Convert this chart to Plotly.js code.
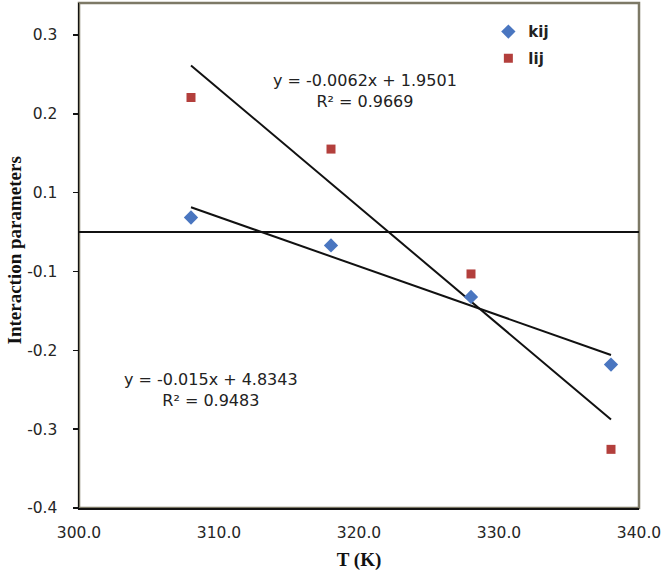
<!DOCTYPE html>
<html>
<head>
<meta charset="utf-8">
<script src="https://cdn.plot.ly/plotly-3.0.1.min.js"></script>
<style>html,body{margin:0;padding:0;background:#fff;}#chart{width:665px;height:571px;}</style>
</head>
<body>
<div id="chart"></div>
<script>
// Data (y in true axis units; axis line y=0 is the horizontal line)
const temperatures = [308, 318, 328, 338];
const kijValues = [0.0185, -0.0169, -0.0822, -0.168];
const lijValues = [0.1707, 0.1053, -0.0531, -0.2756];
const kijEquation = "y = -0.0062x + 1.9501<br>R² = 0.9669";
const lijEquation = "y = -0.015x + 4.8343<br>R² = 0.9483";
const yTickValues = [0.25, 0.15, 0.05, -0.05, -0.15, -0.25, -0.35];
const yTickLabels = ["0.3", "0.2", "0.1", "-0.1", "-0.2", "-0.3", "-0.4"];
const xTickValues = [300, 310, 320, 330, 340];
const xTickLabels = ["300.0", "310.0", "320.0", "330.0", "340.0"];
const yTitle = "Interaction parameters";
const xTitle = "T (K)";

function linearFit(xs, ys) {
  const n = xs.length;
  const mx = xs.reduce((a, b) => a + b, 0) / n;
  const my = ys.reduce((a, b) => a + b, 0) / n;
  let sxy = 0, sxx = 0;
  for (let i = 0; i < n; i++) { sxy += (xs[i] - mx) * (ys[i] - my); sxx += (xs[i] - mx) ** 2; }
  const slope = sxy / sxx;
  const intercept = my - slope * mx;
  const x0 = Math.min(...xs), x1 = Math.max(...xs);
  return { x: [x0, x1], y: [slope * x0 + intercept, slope * x1 + intercept] };
}
const kijFit = linearFit(temperatures, kijValues);
const lijFit = linearFit(temperatures, lijValues);

const sansFont = "'DejaVu Sans', 'Open Sans', sans-serif";
const serifFont = "'Liberation Serif', 'DejaVu Serif', serif";
const tickFont = { family: sansFont, size: 15.5, color: "#262626" };
const legendFont = { family: sansFont, size: 15, color: "#222", weight: "bold" };

const traces = [
  { x: kijFit.x, y: kijFit.y, mode: "lines", line: { color: "#111", width: 2 }, showlegend: false, hoverinfo: "skip" },
  { x: lijFit.x, y: lijFit.y, mode: "lines", line: { color: "#111", width: 2 }, showlegend: false, hoverinfo: "skip" },
  { x: temperatures, y: kijValues, mode: "markers", name: "kij", legend: "legend",
    marker: { symbol: "diamond", size: 11, color: "#4a76c0" } },
  { x: temperatures, y: lijValues, mode: "markers", name: "lij", legend: "legend2",
    marker: { symbol: "square", size: 9, color: "#b33f3c" } }
];

const layout = {
  width: 665, height: 571,
  margin: { l: 79, r: 26, t: 3, b: 62.5, pad: 0 },
  paper_bgcolor: "#fff", plot_bgcolor: "#fff",
  showlegend: true,
  legend: { x: 0.731, y: 0.943, xanchor: "left", yanchor: "middle",
    font: legendFont, bgcolor: "rgba(0,0,0,0)" },
  legend2: { x: 0.731, y: 0.890, xanchor: "left", yanchor: "middle",
    font: legendFont, bgcolor: "rgba(0,0,0,0)" },
  xaxis: {
    range: [300, 340], tickvals: xTickValues, ticktext: xTickLabels,
    showgrid: false, zeroline: false, showline: true, linecolor: "#111", linewidth: 1.5,
    ticks: "", tickfont: tickFont, ticklabelstandoff: 10,
    title: { text: xTitle, font: { family: serifFont, size: 19, color: "#111", weight: "bold" }, standoff: 12 },
    fixedrange: true
  },
  yaxis: {
    range: [-0.35, 0.2906], tickvals: yTickValues, ticktext: yTickLabels,
    showgrid: false, zeroline: true, zerolinecolor: "#111", zerolinewidth: 1.5,
    showline: true, linecolor: "#111", linewidth: 1.5,
    ticks: "outside", ticklen: 5, tickcolor: "#111", tickwidth: 1.5,
    tickfont: tickFont, ticklabelstandoff: 12,
    fixedrange: true
  },
  shapes: [
    { type: "rect", xref: "paper", yref: "paper", x0: 0, x1: 1, y0: 0, y1: 1,
      line: { color: "#7d7966", width: 2.5 }, layer: "below" }
  ],
  annotations: [
    { x: -0.116, y: 0.51, xref: "paper", yref: "paper", text: yTitle, textangle: -90,
      showarrow: false, xanchor: "center", yanchor: "middle", borderpad: 0,
      font: { family: serifFont, size: 19, color: "#111", weight: "bold" } },
    { x: 320.4, y: 0.179, xref: "x", yref: "y", text: kijEquation, showarrow: false,
      font: { family: sansFont, size: 16, color: "#222" }, align: "center" },
    { x: 309.4, y: -0.2, xref: "x", yref: "y", text: lijEquation, showarrow: false,
      font: { family: sansFont, size: 16, color: "#222" }, align: "center" }
  ]
};

Plotly.newPlot("chart", traces, layout, { displayModeBar: false, staticPlot: true });
</script>
</body>
</html>
